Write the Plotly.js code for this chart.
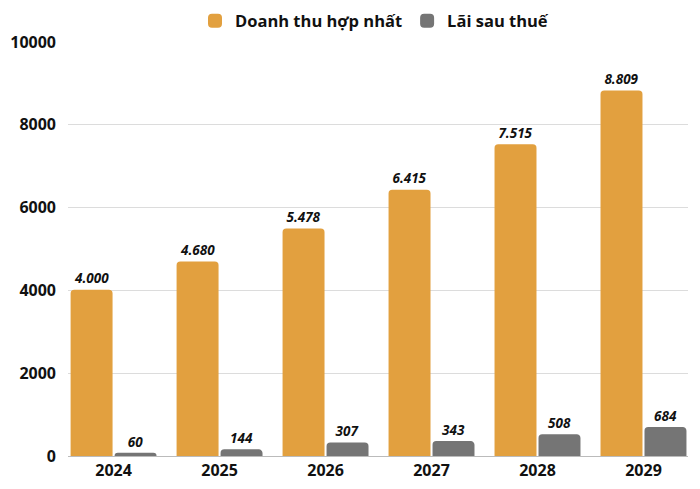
<!DOCTYPE html>
<html>
<head>
<meta charset="utf-8">
<script src="https://cdn.plot.ly/plotly-3.0.1.min.js"></script>
<style>
  html, body { margin: 0; padding: 0; background: #fff; }
  #chart { width: 700px; height: 489px; }
</style>
</head>
<body>
<div id="chart"></div>
<script>
// years and values
var years = ['2024', '2025', '2026', '2027', '2028', '2029'];
var revenue = [4000, 4680, 5478, 6415, 7515, 8809];   // Doanh thu hợp nhất
var profit = [60, 144, 307, 343, 508, 684];            // Lãi sau thuế

var labelFont = { family: 'Open Sans', size: 13.5, color: '#111', weight: 'bold', style: 'italic' };

var trace1 = {
    x: years,
    y: revenue,
    name: 'Doanh thu hợp nhất',
    type: 'bar',
    marker: { color: '#E2A03F', line: { color: '#E2A03F', width: 1.5 } },
    texttemplate: '%{y:,}',
    textposition: 'outside',
    textfont: labelFont,
    cliponaxis: false,
    hoverinfo: 'skip'
};

var trace2 = {
    x: years,
    y: profit,
    name: 'Lãi sau thuế',
    type: 'bar',
    marker: { color: '#757575', line: { color: '#757575', width: 1.5 } },
    texttemplate: '%{y:,}',
    textposition: 'outside',
    textfont: labelFont,
    cliponaxis: false,
    hoverinfo: 'skip'
};

var layout = {
    width: 700,
    height: 489,
    margin: { l: 68, r: 12, t: 42, b: 33, autoexpand: false },
    paper_bgcolor: '#fff',
    plot_bgcolor: '#fff',
    separators: ',.',
    barmode: 'group',
    bargap: 0.17,
    bargroupgap: 0.08,
    barcornerradius: 3,
    font: { family: 'Open Sans', color: '#111' },
    showlegend: true,
    legend: {
        orientation: 'h',
        x: 0.535, xanchor: 'center', xref: 'container',
        y: 0.993, yanchor: 'top', yref: 'container',
        font: { size: 16.5, weight: 'bold', color: '#111' },
        itemsizing: 'constant'
    },
    xaxis: {
        type: 'category',
        range: [-0.43, 5.42],
        tickfont: { size: 16, weight: 'bold', color: '#111' },
        showgrid: false,
        showline: true,
        linecolor: '#bbb',
        ticks: ''
    },
    yaxis: {
        range: [0, 10000],
        dtick: 2000,
        tickformat: 'd',
        tickfont: { size: 16, weight: 'bold', color: '#111' },
        gridcolor: '#dcdcdc',
        zeroline: false,
        ticks: '',
        ticklabelstandoff: 11
    }
};

Plotly.newPlot('chart', [trace1, trace2], layout, { displayModeBar: false, staticPlot: true });
</script>
</body>
</html>
